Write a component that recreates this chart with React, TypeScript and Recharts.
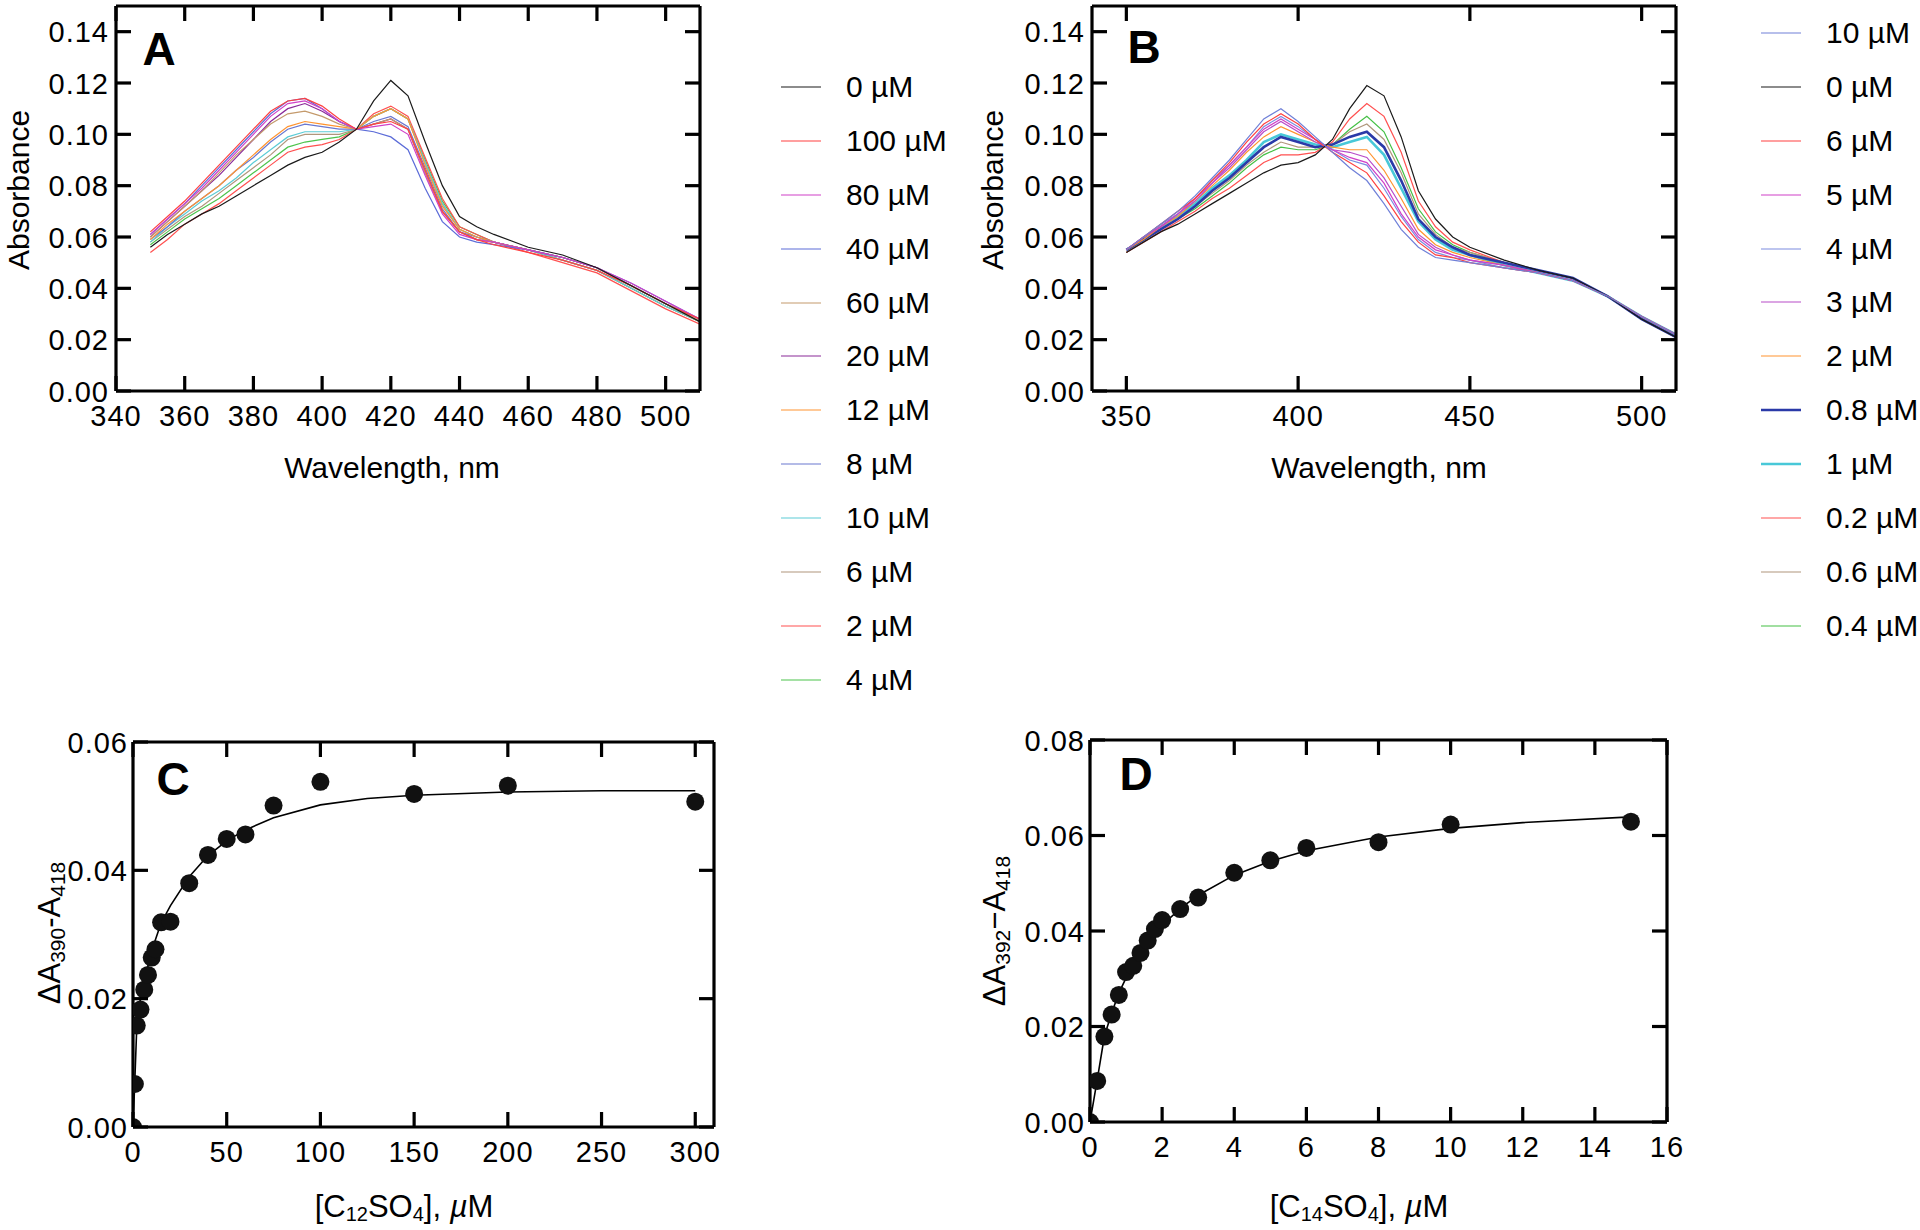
import React from 'react';
import { LineChart, ComposedChart, Line, Scatter, XAxis, YAxis, Legend, Label } from 'recharts';

const FONT = "'Liberation Sans', Arial, Helvetica, sans-serif";

// wavelength grid (nm) shared by panels A and B
const wavelengths = [350, 355, 360, 365, 370, 375, 380, 385, 390, 395, 400, 405, 410, 415, 420, 425, 430, 435, 440, 445, 450, 460, 470, 480, 490, 500, 510];

// Panel A: absorbance with C12SO4 (legend order)
const absA_0 = [0.056, 0.061, 0.065, 0.069, 0.072, 0.076, 0.080, 0.084, 0.088, 0.091, 0.093, 0.097, 0.102, 0.113, 0.121, 0.115, 0.097, 0.080, 0.068, 0.064, 0.061, 0.056, 0.053, 0.048, 0.041, 0.034, 0.027];
const absA_100 = [0.062, 0.068, 0.074, 0.081, 0.088, 0.095, 0.102, 0.109, 0.113, 0.114, 0.111, 0.106, 0.102, 0.104, 0.105, 0.102, 0.086, 0.070, 0.062, 0.059, 0.057, 0.054, 0.051, 0.047, 0.041, 0.034, 0.028];
const absA_80 = [0.061, 0.067, 0.073, 0.079, 0.086, 0.093, 0.100, 0.107, 0.112, 0.113, 0.110, 0.105, 0.102, 0.103, 0.104, 0.100, 0.084, 0.069, 0.061, 0.059, 0.058, 0.055, 0.052, 0.048, 0.042, 0.035, 0.028];
const absA_40 = [0.061, 0.067, 0.073, 0.080, 0.087, 0.094, 0.101, 0.108, 0.113, 0.114, 0.110, 0.105, 0.102, 0.101, 0.099, 0.094, 0.079, 0.066, 0.060, 0.058, 0.057, 0.055, 0.052, 0.048, 0.042, 0.035, 0.028];
const absA_60 = [0.060, 0.066, 0.072, 0.078, 0.085, 0.092, 0.098, 0.104, 0.108, 0.109, 0.107, 0.104, 0.102, 0.104, 0.106, 0.102, 0.085, 0.070, 0.062, 0.059, 0.058, 0.055, 0.052, 0.048, 0.041, 0.034, 0.028];
const absA_20 = [0.060, 0.066, 0.072, 0.078, 0.084, 0.091, 0.098, 0.105, 0.110, 0.112, 0.109, 0.105, 0.102, 0.104, 0.106, 0.102, 0.085, 0.070, 0.062, 0.059, 0.058, 0.055, 0.052, 0.048, 0.041, 0.034, 0.028];
const absA_12 = [0.059, 0.065, 0.070, 0.075, 0.080, 0.086, 0.092, 0.098, 0.103, 0.105, 0.104, 0.103, 0.102, 0.107, 0.110, 0.106, 0.088, 0.072, 0.063, 0.060, 0.058, 0.055, 0.052, 0.048, 0.041, 0.034, 0.027];
const absA_8 = [0.059, 0.064, 0.070, 0.075, 0.080, 0.086, 0.091, 0.097, 0.102, 0.104, 0.103, 0.102, 0.102, 0.105, 0.107, 0.103, 0.087, 0.071, 0.062, 0.060, 0.058, 0.055, 0.052, 0.048, 0.041, 0.034, 0.027];
const absA_10 = [0.058, 0.064, 0.069, 0.074, 0.078, 0.083, 0.089, 0.094, 0.099, 0.101, 0.101, 0.101, 0.102, 0.107, 0.110, 0.106, 0.089, 0.073, 0.063, 0.060, 0.058, 0.055, 0.051, 0.047, 0.040, 0.033, 0.027];
const absA_6 = [0.058, 0.063, 0.068, 0.072, 0.077, 0.082, 0.087, 0.092, 0.098, 0.100, 0.100, 0.100, 0.102, 0.107, 0.110, 0.106, 0.089, 0.073, 0.063, 0.060, 0.058, 0.055, 0.051, 0.047, 0.040, 0.033, 0.027];
const absA_2 = [0.054, 0.059, 0.065, 0.069, 0.073, 0.078, 0.083, 0.088, 0.093, 0.095, 0.096, 0.098, 0.102, 0.108, 0.111, 0.107, 0.091, 0.075, 0.064, 0.061, 0.058, 0.054, 0.050, 0.046, 0.039, 0.032, 0.026];
const absA_4 = [0.057, 0.062, 0.067, 0.071, 0.075, 0.080, 0.085, 0.090, 0.095, 0.097, 0.098, 0.099, 0.102, 0.107, 0.110, 0.106, 0.090, 0.074, 0.064, 0.061, 0.058, 0.055, 0.051, 0.047, 0.040, 0.033, 0.027];

// Panel B: absorbance with C14SO4 (legend order)
const absB_10 = [0.055, 0.060, 0.065, 0.070, 0.076, 0.083, 0.090, 0.098, 0.106, 0.110, 0.105, 0.099, 0.093, 0.087, 0.082, 0.073, 0.063, 0.056, 0.052, 0.051, 0.050, 0.048, 0.046, 0.043, 0.037, 0.029, 0.022];
const absB_0 = [0.054, 0.058, 0.062, 0.065, 0.069, 0.073, 0.077, 0.081, 0.085, 0.088, 0.089, 0.092, 0.098, 0.110, 0.119, 0.115, 0.099, 0.078, 0.067, 0.060, 0.056, 0.051, 0.047, 0.044, 0.037, 0.028, 0.021];
const absB_6 = [0.055, 0.060, 0.065, 0.070, 0.075, 0.082, 0.089, 0.097, 0.104, 0.108, 0.104, 0.098, 0.093, 0.089, 0.085, 0.076, 0.066, 0.058, 0.053, 0.052, 0.050, 0.048, 0.046, 0.043, 0.037, 0.029, 0.022];
const absB_5 = [0.055, 0.060, 0.064, 0.069, 0.075, 0.081, 0.088, 0.095, 0.102, 0.106, 0.102, 0.098, 0.094, 0.091, 0.089, 0.081, 0.069, 0.060, 0.055, 0.053, 0.051, 0.049, 0.046, 0.043, 0.037, 0.029, 0.022];
const absB_4 = [0.055, 0.060, 0.065, 0.069, 0.075, 0.082, 0.088, 0.095, 0.103, 0.107, 0.103, 0.098, 0.094, 0.090, 0.088, 0.079, 0.068, 0.059, 0.054, 0.052, 0.051, 0.048, 0.046, 0.043, 0.037, 0.029, 0.022];
const absB_3 = [0.055, 0.060, 0.064, 0.069, 0.074, 0.081, 0.087, 0.094, 0.101, 0.105, 0.101, 0.097, 0.094, 0.093, 0.091, 0.083, 0.072, 0.061, 0.056, 0.053, 0.051, 0.049, 0.046, 0.043, 0.037, 0.029, 0.022];
const absB_2 = [0.055, 0.059, 0.064, 0.068, 0.074, 0.080, 0.086, 0.093, 0.099, 0.103, 0.100, 0.097, 0.095, 0.094, 0.094, 0.086, 0.075, 0.063, 0.057, 0.054, 0.052, 0.049, 0.046, 0.043, 0.037, 0.029, 0.022];
const absB_08 = [0.055, 0.059, 0.063, 0.067, 0.072, 0.078, 0.083, 0.089, 0.095, 0.099, 0.097, 0.095, 0.096, 0.099, 0.101, 0.095, 0.082, 0.067, 0.060, 0.056, 0.053, 0.050, 0.047, 0.044, 0.037, 0.028, 0.021];
const absB_1 = [0.055, 0.059, 0.064, 0.068, 0.073, 0.079, 0.084, 0.090, 0.097, 0.100, 0.098, 0.096, 0.095, 0.097, 0.099, 0.092, 0.079, 0.066, 0.059, 0.055, 0.053, 0.049, 0.046, 0.043, 0.037, 0.029, 0.022];
const absB_02 = [0.054, 0.058, 0.062, 0.066, 0.070, 0.075, 0.079, 0.084, 0.089, 0.092, 0.092, 0.093, 0.097, 0.106, 0.112, 0.107, 0.093, 0.074, 0.064, 0.058, 0.055, 0.050, 0.047, 0.044, 0.037, 0.028, 0.021];
const absB_06 = [0.054, 0.059, 0.063, 0.067, 0.072, 0.077, 0.082, 0.088, 0.093, 0.097, 0.095, 0.095, 0.096, 0.101, 0.104, 0.098, 0.085, 0.069, 0.061, 0.056, 0.054, 0.050, 0.047, 0.044, 0.037, 0.028, 0.021];
const absB_04 = [0.054, 0.059, 0.063, 0.067, 0.071, 0.076, 0.081, 0.087, 0.092, 0.095, 0.094, 0.094, 0.096, 0.102, 0.107, 0.101, 0.087, 0.071, 0.062, 0.057, 0.054, 0.050, 0.047, 0.044, 0.037, 0.028, 0.021];

// Panel C: titration with C12SO4
const concC = [0, 1, 2, 4, 6, 8, 10, 12, 15, 20, 30, 40, 50, 60, 75, 100, 150, 200, 300];
const deltaC = [0, 0.0067, 0.0158, 0.0183, 0.0214, 0.0237, 0.0264, 0.0277, 0.0319, 0.032, 0.038, 0.0424, 0.0449, 0.0456, 0.0501, 0.0538, 0.0519, 0.0532, 0.0507];
const fitXC = [0, 1, 2, 3, 5, 7, 10, 15, 20, 30, 40, 50, 60, 75, 100, 125, 150, 200, 250, 300];
const fitYC = [0, 0.0075, 0.0155, 0.0185, 0.0215, 0.024, 0.0275, 0.0318, 0.0345, 0.039, 0.0423, 0.0446, 0.0463, 0.0482, 0.0502, 0.0512, 0.0517, 0.0522, 0.0524, 0.0524];

// Panel D: titration with C14SO4
const concD = [0, 0.2, 0.4, 0.6, 0.8, 1.0, 1.2, 1.4, 1.6, 1.8, 2.0, 2.5, 3, 4, 5, 6, 8, 10, 15];
const deltaD = [0, 0.0086, 0.0179, 0.0225, 0.0266, 0.0314, 0.0327, 0.0354, 0.038, 0.0404, 0.0423, 0.0446, 0.047, 0.0522, 0.0548, 0.0574, 0.0586, 0.0623, 0.0629];
const fitXD = [0, 0.2, 0.4, 0.6, 0.8, 1, 1.2, 1.4, 1.6, 1.8, 2, 2.5, 3, 4, 5, 6, 8, 10, 12, 15];
const fitYD = [0, 0.0088, 0.018, 0.0228, 0.027, 0.0302, 0.033, 0.0354, 0.0376, 0.0395, 0.0412, 0.0447, 0.0475, 0.0517, 0.0546, 0.0568, 0.0597, 0.0615, 0.0627, 0.0639];

const seriesA = [
  { name: '0 µM', color: '#1a1a1a', w: 1.2, values: absA_0 },
  { name: '100 µM', color: '#ff4040', w: 1.2, values: absA_100 },
  { name: '80 µM', color: '#d040c8', w: 1.2, values: absA_80 },
  { name: '40 µM', color: '#5c6cd8', w: 1.2, values: absA_40 },
  { name: '60 µM', color: '#c49a6c', w: 1.2, values: absA_60 },
  { name: '20 µM', color: '#8a2a98', w: 1.2, values: absA_20 },
  { name: '12 µM', color: '#ff9430', w: 1.2, values: absA_12 },
  { name: '8 µM', color: '#6a78d0', w: 1.2, values: absA_8 },
  { name: '10 µM', color: '#5cccd6', w: 1.2, values: absA_10 },
  { name: '6 µM', color: '#b0967c', w: 1.2, values: absA_6 },
  { name: '2 µM', color: '#ff5050', w: 1.2, values: absA_2 },
  { name: '4 µM', color: '#4cc44c', w: 1.2, values: absA_4 },
];

const seriesB = [
  { name: '10 µM', color: '#7080d8', w: 1.2, values: absB_10 },
  { name: '0 µM', color: '#1a1a1a', w: 1.2, values: absB_0 },
  { name: '6 µM', color: '#ff4040', w: 1.2, values: absB_6 },
  { name: '5 µM', color: '#d040c8', w: 1.2, values: absB_5 },
  { name: '4 µM', color: '#7c8ce0', w: 1.2, values: absB_4 },
  { name: '3 µM', color: '#b84cc8', w: 1.2, values: absB_3 },
  { name: '2 µM', color: '#ff9430', w: 1.2, values: absB_2 },
  { name: '0.8 µM', color: '#2a3aa8', w: 2.6, values: absB_08 },
  { name: '1 µM', color: '#48c8d8', w: 2.6, values: absB_1 },
  { name: '0.2 µM', color: '#ff5050', w: 1.2, values: absB_02 },
  { name: '0.6 µM', color: '#b0967c', w: 1.2, values: absB_06 },
  { name: '0.4 µM', color: '#44c044', w: 1.2, values: absB_04 },
];

type Series = { name: string; color: string; w: number; values: number[] };

const toRows = (series: Series[]) =>
  wavelengths.map((x, i) => {
    const r: Record<string, number> = { x };
    series.forEach((s, j) => (r['s' + j] = s.values[i]));
    return r;
  });

const rowsA = toRows(seriesA);
const rowsB = toRows(seriesB);
const ptsC = concC.map((x, i) => ({ x, y: deltaC[i] }));
const lineC = fitXC.map((x, i) => ({ x, y: fitYC[i] }));
const ptsD = concD.map((x, i) => ({ x, y: deltaD[i] }));
const lineD = fitXD.map((x, i) => ({ x, y: fitYD[i] }));

const absTicks = [0, 0.02, 0.04, 0.06, 0.08, 0.1, 0.12, 0.14];
const wlTicksA = [340, 360, 380, 400, 420, 440, 460, 480, 500];
const wlTicksB = [350, 400, 450, 500];
const concTicksC = [0, 50, 100, 150, 200, 250, 300];
const concTicksD = [0, 2, 4, 6, 8, 10, 12, 14, 16];
const deltaTicksC = [0, 0.02, 0.04, 0.06];
const deltaTicksD = [0, 0.02, 0.04, 0.06, 0.08];

const TL = 15; // tick length, drawn inward
const axisStroke = { stroke: '#000', strokeWidth: 3.2 };
const tickFont = { fill: '#000', fontSize: 29, fontFamily: FONT, letterSpacing: 1 };
const fmt2 = (v: number) => v.toFixed(2);
const fmt0 = (v: number) => String(v);

// custom tick renderers: the inward tick mark plus the outside label
const tickBottom = (gap: number) => (p: any) => (
  <g>
    <line x1={p.x} y1={p.y} x2={p.x} y2={p.y - TL} {...axisStroke} />
    <text x={p.x} y={p.y + gap} textAnchor="middle" {...tickFont}>{fmt0(p.payload.value)}</text>
  </g>
);
const tickLeft = (gap: number) => (p: any) => (
  <g>
    <line x1={p.x} y1={p.y} x2={p.x + TL} y2={p.y} {...axisStroke} />
    <text x={p.x - gap} y={p.y + 10.5} textAnchor="end" {...tickFont}>{fmt2(p.payload.value)}</text>
  </g>
);
const tickTop = (p: any) => <line x1={p.x} y1={p.y} x2={p.x} y2={p.y + TL} {...axisStroke} />;
const tickRight = (p: any) => <line x1={p.x} y1={p.y} x2={p.x - TL} y2={p.y} {...axisStroke} />;

type FrameOpts = {
  xDomain: number[]; xTicks: number[]; yDomain: number[]; yTicks: number[];
  yWidth: number; yGap: number; xGap: number;
  xLabel: any; yLabel: any; letter: any;
};

// four-sided frame with inward ticks, the way the original plots are drawn
function frame(o: FrameOpts) {
  return [
    <XAxis key="xb" xAxisId="b" type="number" dataKey="x" domain={o.xDomain} ticks={o.xTicks} interval={0}
      allowDataOverflow height={50} tickSize={0} tickMargin={0} tickLine={false}
      axisLine={axisStroke} tick={tickBottom(o.xGap)}>
      <Label content={o.xLabel} />
    </XAxis>,
    <XAxis key="xt" xAxisId="t" orientation="top" type="number" dataKey="x" domain={o.xDomain} ticks={o.xTicks}
      interval={0} allowDataOverflow height={1} tickSize={0} tickMargin={0} tickLine={false}
      axisLine={axisStroke} tick={tickTop}>
      <Label content={o.letter} />
    </XAxis>,
    <YAxis key="yl" yAxisId="l" type="number" domain={o.yDomain} ticks={o.yTicks} interval={0} allowDataOverflow
      width={o.yWidth} tickSize={0} tickMargin={0} tickLine={false} axisLine={axisStroke} tick={tickLeft(o.yGap)}>
      <Label content={o.yLabel} />
    </YAxis>,
    <YAxis key="yr" yAxisId="r" orientation="right" type="number" domain={o.yDomain} ticks={o.yTicks} interval={0}
      allowDataOverflow width={1} tickSize={0} tickMargin={0} tickLine={false} axisLine={axisStroke} tick={tickRight} />,
  ];
}

const letterText = (x: number, y: number, t: string) => () => (
  <text x={x} y={y} textAnchor="middle" dominantBaseline="central" fontFamily={FONT} fontWeight="bold" fontSize={46} fill="#000">{t}</text>
);

const plainTitle = (x: number, y: number, t: string, rotate = false) => () => (
  <text x={x} y={y} transform={rotate ? `rotate(-90 ${x} ${y})` : undefined} textAnchor="middle"
    dominantBaseline="central" fontFamily={FONT} fontSize={30} fill="#000">{t}</text>
);

const deltaTitle = (x: number, y: number, a: string, b: string, dash: string) => () => (
  <text x={x} y={y} transform={`rotate(-90 ${x} ${y})`} textAnchor="middle" dominantBaseline="central"
    fontFamily={FONT} fontSize={31} fill="#000">
    ΔA<tspan dy={8} fontSize={21}>{a}</tspan><tspan dy={-8}>{dash}A</tspan><tspan dy={8} fontSize={21}>{b}</tspan>
  </text>
);

const concTitle = (x: number, y: number, n: string) => () => (
  <text x={x} y={y} textAnchor="middle" dominantBaseline="central" fontFamily={FONT} fontSize={31} fill="#000">
    [C<tspan dy={8} fontSize={20}>{n}</tspan><tspan dy={-8}>SO</tspan><tspan dy={8} fontSize={20}>4</tspan>
    <tspan dy={-8}>], </tspan><tspan fontStyle="italic">µ</tspan>M
  </text>
);

const legendList = (series: Series[]) => () => (
  <div style={{ fontFamily: FONT }}>
    {series.map((s) => (
      <div key={s.name} style={{ display: 'flex', alignItems: 'center', height: 53.9 }}>
        <svg width={40} height={6}>
          <line x1={0} y1={3} x2={40} y2={3} stroke={s.color} strokeWidth={s.w} />
        </svg>
        <span style={{ marginLeft: 25, fontSize: 30, color: '#000', whiteSpace: 'nowrap' }}>{s.name}</span>
      </div>
    ))}
  </div>
);

const dot = (p: any) => <circle cx={p.cx} cy={p.cy} r={9} fill="#111" />;

function SpectraPanel({ rows, series, ticks, left, yWidth, marginLeft, marginRight, legendLeft, legendTop, letter, titles }: any) {
  return (
    <div style={{ position: 'absolute', left, top: 0 }}>
      <LineChart width={960} height={500} data={rows} margin={{ top: 5, left: marginLeft, right: marginRight, bottom: 59 }}>
        {frame({
          xDomain: [340, 510], xTicks: ticks, yDomain: [0, 0.15], yTicks: absTicks,
          yWidth, yGap: 7, xGap: 35,
          xLabel: plainTitle(titles.xx, 467, 'Wavelength, nm'),
          yLabel: plainTitle(titles.yx, 190, 'Absorbance', true),
          letter,
        })}
        {series.map((s: Series, j: number) => ({ s, j })).reverse().map(({ s, j }: any) => (
          <Line key={s.name} xAxisId="b" yAxisId="l" type="linear" dataKey={'s' + j} stroke={s.color}
            strokeWidth={s.w} dot={false} isAnimationActive={false} />
        ))}
        <Legend layout="vertical" align="center" verticalAlign="middle" content={legendList(series)}
          wrapperStyle={{ left: legendLeft, top: legendTop, width: 180 }} />
      </LineChart>
    </div>
  );
}

function BindingPanel({ left, pts, fit, xDomain, xTicks, yDomain, yTicks, margin, letter, xLabel, yLabel }: any) {
  return (
    <div style={{ position: 'absolute', left, top: 600 }}>
      <ComposedChart width={960} height={630} margin={margin}>
        {frame({
          xDomain, xTicks, yDomain, yTicks, yWidth: 100, yGap: 5, xGap: 35,
          xLabel, yLabel, letter,
        })}
        <Line xAxisId="b" yAxisId="l" data={fit} dataKey="y" type="linear" stroke="#000" strokeWidth={1.6}
          dot={false} isAnimationActive={false} />
        <Scatter xAxisId="b" yAxisId="l" data={pts} dataKey="y" fill="#111" shape={dot} isAnimationActive={false} />
      </ComposedChart>
    </div>
  );
}

export default function App() {
  return (
    <div style={{ position: 'absolute', left: 0, top: 0, width: 1920, height: 1230, background: '#fff', fontFamily: FONT }}>
      <SpectraPanel rows={rowsA} series={seriesA} ticks={wlTicksA} left={0} yWidth={110} marginLeft={6} marginRight={259}
        legendLeft={781} legendTop={60} letter={letterText(159, 49, 'A')} titles={{ xx: 392, yx: 18 }} />
      <SpectraPanel rows={rowsB} series={seriesB} ticks={wlTicksB} left={960} yWidth={120} marginLeft={12} marginRight={243}
        legendLeft={801} legendTop={6} letter={letterText(184, 47, 'B')} titles={{ xx: 419, yx: 32 }} />
      <BindingPanel left={0} pts={ptsC} fit={lineC} xDomain={[0, 310]} xTicks={concTicksC} yDomain={[0, 0.06]} yTicks={deltaTicksC}
        margin={{ top: 141, left: 33, right: 245, bottom: 53 }}
        letter={letterText(173, 179, 'C')} xLabel={concTitle(404, 606, '12')} yLabel={deltaTitle(49, 333, '390', '418', '-')} />
      <BindingPanel left={960} pts={ptsD} fit={lineD} xDomain={[0, 16]} xTicks={concTicksD} yDomain={[0, 0.08]} yTicks={deltaTicksD}
        margin={{ top: 139, left: 30, right: 252, bottom: 58 }}
        letter={letterText(176, 174, 'D')} xLabel={concTitle(399, 606, '14')} yLabel={deltaTitle(34, 331, '392', '418', '−')} />
    </div>
  );
}
